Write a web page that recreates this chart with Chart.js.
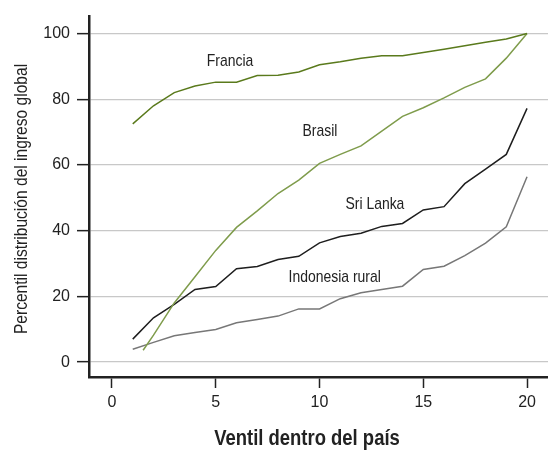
<!DOCTYPE html>
<html>
<head>
<meta charset="utf-8">
<script src="https://cdn.jsdelivr.net/npm/chart.js@4.4.1/dist/chart.umd.min.js"></script>
<style>
    html, body { margin: 0; padding: 0; background: #fff; }
    #wrap { width: 548px; height: 453px; }
</style>
</head>
<body>
<div id="wrap"><canvas id="chart" width="548" height="453"></canvas></div>
<script>
// ventiles 1..20
var ventiles = [1, 2, 3, 4, 5, 6, 7, 8, 9, 10, 11, 12, 13, 14, 15, 16, 17, 18, 19, 20];
var brasilVentiles = [1.5, 2, 3, 4, 5, 6, 7, 8, 9, 10, 11, 12, 13, 14, 15, 16, 17, 18, 19, 20];

var francia   = [72.5, 78, 82, 84, 85.2, 85.2, 87.2, 87.3, 88.3, 90.5, 91.4, 92.5, 93.2, 93.2, 94.2, 95.2, 96.3, 97.3, 98.3, 100];
var brasil    = [3.6, 8.2, 18, 26, 34, 41, 46, 51.3, 55.4, 60.5, 63.2, 65.8, 70.3, 74.8, 77.4, 80.4, 83.6, 86.2, 92.5, 100];
var sriLanka  = [7, 13.5, 17.6, 22.1, 23, 28.4, 29.1, 31.2, 32.2, 36.3, 38.2, 39.2, 41.3, 42.2, 46.3, 47.3, 54.3, 58.7, 63.2, 77.2];
var indonesia = [3.9, 6, 8, 9, 9.9, 12, 13, 14, 16.2, 16.2, 19.3, 21.1, 22.1, 23.1, 28.2, 29.2, 32.4, 36.2, 41.2, 56.4];

var xTicks = [0, 5, 10, 15, 20];
var yTicks = [0, 20, 40, 60, 80, 100];

var seriesNames = ["Francia", "Brasil", "Sri Lanka", "Indonesia rural"];

var FONT = "'Liberation Sans', Arial, sans-serif";
var NARROW = 0.82; // no narrow face installed, squeeze text horizontally

function toPoints(xs, ys) {
    var pts = [];
    for (var i = 0; i < ys.length; i++) {
        pts.push({ x: xs[i], y: ys[i] });
    }
    return pts;
}

function makeSet(label, xs, ys, color) {
    return {
        label: label,
        data: toPoints(xs, ys),
        borderColor: color,
        borderWidth: 1.5,
        pointRadius: 0,
        tension: 0,
        fill: false
    };
}

// series names written next to the lines, anchored in data units
var seriesLabels = [
    { text: "Francia",         x: 5.69,  y: 91.5 },
    { text: "Brasil",          x: 10.02, y: 70.1 },
    { text: "Sri Lanka",       x: 12.67, y: 47.9 },
    { text: "Indonesia rural", x: 10.73, y: 25.8 }
];

function narrowText(ctx, text, x, y, rot) {
    ctx.save();
    ctx.translate(x, y);
    if (rot) ctx.rotate(rot);
    ctx.scale(NARROW, 1);
    ctx.fillText(text, 0, 0);
    ctx.restore();
}

var textPlugin = {
    id: 'textPlugin',
    afterDraw: function (chart) {
        var ctx = chart.ctx;
        var xs = chart.scales.x, ys = chart.scales.y;
        ctx.save();
        ctx.fillStyle = '#222';
        ctx.textAlign = 'center';
        ctx.textBaseline = 'middle';
        ctx.font = "17px " + FONT;
        seriesLabels.forEach(function (l) {
            narrowText(ctx, l.text, xs.getPixelForValue(l.x), ys.getPixelForValue(l.y));
        });

        // axis titles
        ctx.font = "bold 22.5px " + FONT;
        narrowText(ctx, "Ventil dentro del país", 307, 439);

        ctx.font = "19px " + FONT;
        narrowText(ctx, "Percentil distribución del ingreso global", 22, 199, -Math.PI / 2);
        ctx.restore();
    }
};

var ctx = document.getElementById('chart').getContext('2d');
var chart = new Chart(ctx, {
    type: 'line',
    data: {
        datasets: [
            makeSet(seriesNames[0], ventiles, francia, '#5a7a1c'),
            makeSet(seriesNames[1], brasilVentiles, brasil, '#7f9c4c'),
            makeSet(seriesNames[2], ventiles, sriLanka, '#1e1e1e'),
            makeSet(seriesNames[3], ventiles, indonesia, '#777777')
        ]
    },
    options: {
        responsive: false,
        animation: false,
        layout: { padding: { top: 14, right: 0, left: 0, bottom: 0 } },
        plugins: {
            legend: { display: false },
            tooltip: { enabled: false }
        },
        scales: {
            x: {
                type: 'linear',
                position: 'bottom',
                min: -1.108,
                max: 21.01,
                afterBuildTicks: function (scale) {
                    scale.ticks = xTicks.map(function (v) { return { value: v }; });
                },
                afterFit: function (scale) { scale.height = 76; },
                grid: {
                    drawOnChartArea: false,
                    drawTicks: true,
                    tickLength: 11,
                    tickColor: '#222',
                    tickWidth: 1.5
                },
                border: { display: true, color: '#222', width: 2.5 },
                ticks: {
                    padding: 5,
                    color: '#222',
                    maxRotation: 0,
                    font: { family: FONT, size: 16 }
                }
            },
            y: {
                type: 'linear',
                min: -4.53,
                max: 105.14,
                afterBuildTicks: function (scale) {
                    scale.ticks = yTicks.map(function (v) { return { value: v }; });
                },
                afterFit: function (scale) { scale.width = 89; },
                grid: {
                    color: '#c8c8c8',
                    lineWidth: 1.3,
                    drawTicks: true,
                    tickLength: 12,
                    tickColor: '#222',
                    tickWidth: 1.5
                },
                border: { display: true, color: '#222', width: 2.5 },
                ticks: {
                    padding: 7,
                    color: '#222',
                    font: { family: FONT, size: 16 }
                }
            }
        }
    },
    plugins: [textPlugin]
});
</script>
</body>
</html>
